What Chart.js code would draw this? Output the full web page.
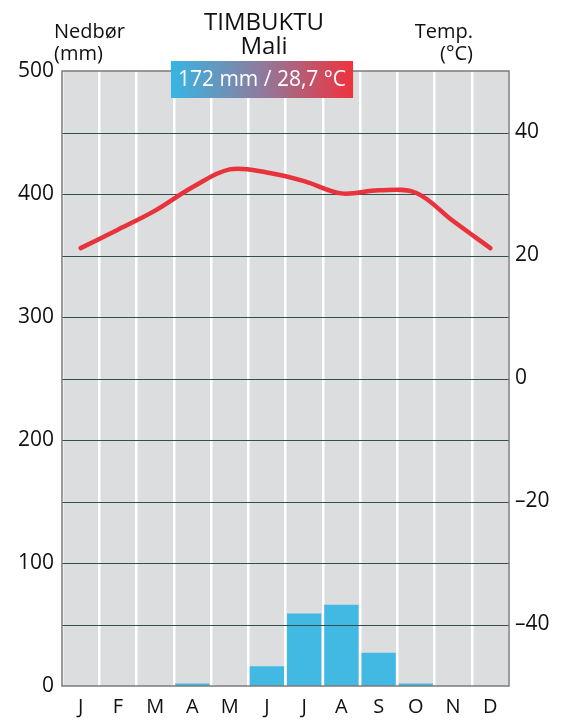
<!DOCTYPE html>
<html>
<head>
<meta charset="utf-8">
<script src="https://cdn.jsdelivr.net/npm/chart.js@4"></script>
<style>
html,body{margin:0;padding:0;background:#fff;}
canvas{display:block;}
</style>
</head>
<body>
<canvas id="c" width="566" height="722"></canvas>
<script>
const months = ['J','F','M','A','M','J','J','A','S','O','N','D'];
const precipitation = [0, 0, 0, 2, 0, 16, 59, 66, 27, 2, 0, 0];
const temperature = [21.2, 24.2, 27.3, 31.1, 34.0, 33.5, 32.1, 30.1, 30.6, 30.2, 25.6, 21.2];
const precipTicks = [0, 100, 200, 300, 400, 500];
const tempTicks = [-40, -20, 0, 20, 40];
const titleLines = ['TIMBUKTU', 'Mali'];
const summaryText = '172 mm / 28,7 °C';
const leftAxisTitle = ['Nedbør', '(mm)'];
const rightAxisTitle = ['Temp.', '(°C)'];

const FONT = '"Open Sans", "Noto Sans", sans-serif';

const decor = {
  id: 'decor',
  beforeDraw(chart) {
    const {ctx, chartArea: a} = chart;
    ctx.save();
    ctx.fillStyle = '#dcddde';
    ctx.fillRect(a.left, a.top, a.right - a.left, a.bottom - a.top);
    ctx.restore();
  },
  afterDatasetDraw(chart, args) {
    if (args.meta.type !== 'bar') return;
    const {ctx, chartArea: a, scales} = chart;
    const y = scales.y;
    ctx.save();
    ctx.strokeStyle = '#33504d';
    ctx.lineWidth = 1.2;
    y.ticks.forEach(t => {
      if (t.value <= y.min || t.value >= y.max) return;
      const py = Math.round(y.getPixelForValue(t.value)) + 0.5;
      ctx.beginPath();
      ctx.moveTo(a.left, py);
      ctx.lineTo(a.right, py);
      ctx.stroke();
    });
    ctx.restore();
  },
  afterDraw(chart) {
    const {ctx, chartArea: a} = chart;
    ctx.save();
    ctx.strokeStyle = '#7b7b7b';
    ctx.lineWidth = 1.5;
    ctx.strokeRect(a.left, a.top, a.right - a.left, a.bottom - a.top);

    ctx.fillStyle = '#111';
    ctx.textBaseline = 'alphabetic';
    ctx.font = '24px ' + FONT;
    ctx.textAlign = 'center';
    ctx.fillText(titleLines[0], 264, 30);
    ctx.fillText(titleLines[1], 264, 54);
    ctx.font = '20px ' + FONT;
    ctx.textAlign = 'left';
    ctx.fillText(leftAxisTitle[0], 54, 38);
    ctx.fillText(leftAxisTitle[1], 54, 60);
    ctx.textAlign = 'right';
    ctx.fillText(rightAxisTitle[0], 473, 38);
    ctx.fillText(rightAxisTitle[1], 473, 60);

    ctx.font = '21px ' + FONT;
    const tw = ctx.measureText(summaryText).width;
    const bw = tw + 14, bh = 37, cx = 262;
    const bx = cx - bw / 2, by = 61;
    const g = ctx.createLinearGradient(bx, 0, bx + bw, 0);
    g.addColorStop(0, '#36b6e4');
    g.addColorStop(0.5, '#8f7a9c');
    g.addColorStop(1, '#f0323e');
    ctx.fillStyle = g;
    ctx.fillRect(bx, by, bw, bh);
    ctx.fillStyle = '#ffffff';
    ctx.textAlign = 'center';
    ctx.textBaseline = 'middle';
    ctx.fillText(summaryText, cx, by + bh / 2 + 1);
    ctx.restore();
  }
};

new Chart(document.getElementById('c'), {
  type: 'bar',
  data: {
    labels: months,
    datasets: [
      {
        type: 'line',
        data: temperature,
        yAxisID: 'y2',
        borderColor: '#e8323c',
        borderWidth: 4.5,
        borderCapStyle: 'round',
        borderJoinStyle: 'round',
        pointRadius: 0,
        tension: 0.35,
        order: 1
      },
      {
        type: 'bar',
        data: precipitation,
        yAxisID: 'y',
        backgroundColor: '#41b9e2',
        borderWidth: 0,
        barPercentage: 0.92,
        categoryPercentage: 1,
        order: 2
      }
    ]
  },
  options: {
    responsive: false,
    animation: false,
    devicePixelRatio: 1,
    layout: {padding: {top: 71, left: 0, right: 0, bottom: 0}},
    plugins: {legend: {display: false}, tooltip: {enabled: false}},
    scales: {
      x: {
        offset: true,
        grid: {offset: true, color: '#ffffff', lineWidth: 2.5, drawTicks: false},
        border: {display: false},
        ticks: {color: '#111', font: {family: FONT, size: 20}, padding: 9, maxRotation: 0, autoSkip: false},
        afterFit(s) { s.height = 36; }
      },
      y: {
        position: 'left',
        min: 0, max: 500,
        grid: {display: false, drawTicks: false},
        border: {display: false},
        ticks: {
          stepSize: 50,
          color: '#111',
          font: {family: FONT, size: 21},
          padding: 8,
          callback: v => precipTicks.includes(v) ? String(v) : ''
        },
        afterFit(s) { s.width = 62; }
      },
      y2: {
        position: 'right',
        min: -50, max: 50,
        grid: {display: false, drawTicks: false},
        border: {display: false},
        afterBuildTicks(s) { s.ticks = tempTicks.map(v => ({value: v})); },
        ticks: {
          color: '#111',
          font: {family: FONT, size: 21},
          padding: 6,
          callback: v => (v < 0 ? '\u2013' + Math.abs(v) : String(v))
        },
        afterFit(s) { s.width = 57; }
      }
    }
  },
  plugins: [decor]
});
</script>
</body>
</html>
